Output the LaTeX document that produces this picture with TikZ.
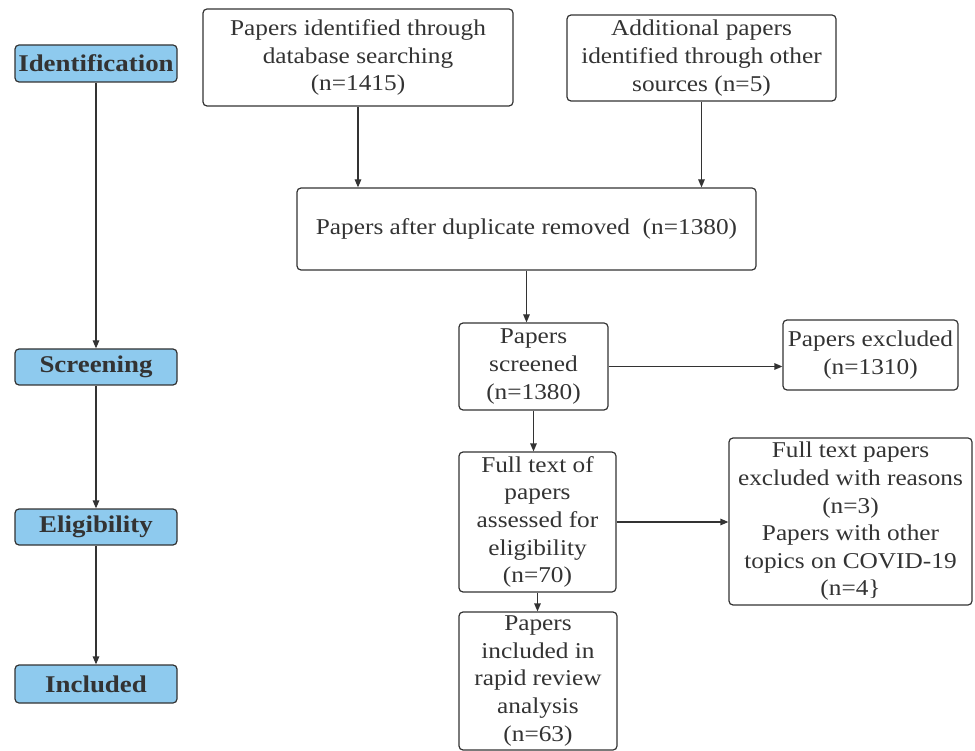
\documentclass[tikz,border=0pt]{standalone}
\usepackage{fontspec}
\setmainfont{Liberation Serif}[FakeStretch=1.12]
\usetikzlibrary{arrows.meta}
\definecolor{ink}{RGB}{51,51,51}
\definecolor{stagefill}{RGB}{142,202,238}
\begin{document}
\begin{tikzpicture}[x=1pt,y=-1pt,
  box/.style={draw=ink, line width=1.2pt, rounded corners=4pt, align=center, inner sep=0pt,
    font=\fontsize{22.6}{27.6}\selectfont, text=ink},
  stage/.style={draw=ink, line width=1.2pt, rounded corners=4pt, fill=stagefill, inner sep=0pt,
    minimum width=162pt, font=\fontsize{24}{27}\selectfont\bfseries, text=ink},
  arr/.style={draw=ink, line width=1.2pt, -{Triangle[length=8pt,width=6.5pt]}}]
\useasboundingbox (0,0) rectangle (975,751);
% stages
\node[stage, minimum height=37pt] (id) at (96,63.5) {Identification};
\node[stage, minimum height=36pt] (sc) at (96,367) {Screening};
\node[stage, minimum height=36pt] (el) at (96,527) {Eligibility};
\node[stage, minimum height=38pt] (in) at (96,684) {Included};
\draw[arr] (id.south) -- (sc.north);
\draw[arr] (sc.south) -- (el.north);
\draw[arr] (el.south) -- (in.north);
% boxes
\node[box, minimum width=310pt, minimum height=97pt] (b1) at (358,57.5)
  {Papers identified through\\database searching\\(n=1415)};
\node[box, minimum width=269pt, minimum height=86pt] (b2) at (701.5,58)
  {Additional papers\\identified through other\\sources (n=5)};
\node[box, minimum width=459pt, minimum height=82pt] (b3) at (526.5,229)
  {Papers after duplicate removed\ \ (n=1380)};
\node[box, minimum width=149pt, minimum height=87pt] (b4) at (533.5,366.5)
  {Papers\\screened\\(n=1380)};
\node[box, minimum width=175pt, minimum height=70pt] (b5) at (870.5,355)
  {Papers excluded\\(n=1310)};
\node[box, minimum width=157pt, minimum height=140pt] (b6) at (537.5,522)
  {Full text of\\papers\\assessed for\\eligibility\\(n=70)};
\node[box, minimum width=243pt, minimum height=167pt] (b7) at (850.5,521.5)
  {Full text papers\\excluded with reasons\\(n=3)\\Papers with other\\topics on COVID-19\\(n=4\}};
\node[box, minimum width=158pt, minimum height=138pt] (b8) at (538,681)
  {Papers\\included in\\rapid review\\analysis\\(n=63)};
% connectors
\draw[arr] (b1.south) -- (b1.south |- b3.north);
\draw[arr] (b2.south) -- (b2.south |- b3.north);
\draw[arr] (b3.south) -- (b3.south |- b4.north);
\draw[arr] (b4.east) -- (b4.east -| b5.west);
\draw[arr] (b4.south) -- (b4.south |- b6.north);
\draw[arr] (b6.east) -- (b6.east -| b7.west);
\draw[arr] (b6.south) -- (b6.south |- b8.north);
\end{tikzpicture}
\end{document}
